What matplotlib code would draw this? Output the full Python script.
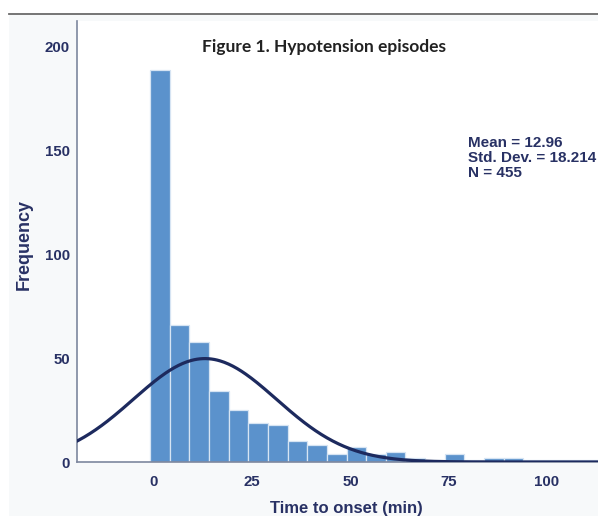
import numpy as np
import matplotlib
matplotlib.use("Agg")
import matplotlib.pyplot as plt
from matplotlib.patches import Rectangle
from matplotlib.lines import Line2D

# histogram counts (bin width 5 min)
bin_start = -1
bin_width = 5
counts = [189, 66, 58, 34, 25, 19, 18, 10, 8, 4, 7, 4, 5, 2, 1, 4, 1, 2, 2, 1, 1, 1, 1]

mean = 12.96
std_dev = 18.214
n_total = 455

x_ticks = [0, 25, 50, 75, 100]
y_ticks = [0, 50, 100, 150, 200]

navy = "#283164"
bar_color = "#5b92cc"
curve_color = "#1d2a5e"

plt.rcParams['font.family'] = ['Liberation Sans', 'DejaVu Sans']

fig = plt.figure(figsize=(5.98, 5.16), dpi=100)
fig.patch.set_facecolor("white")

# light panel + top rule
fig.patches.append(Rectangle((9 / 598, 0), 1, (516 - 13) / 516, transform=fig.transFigure,
                             facecolor="#f7f9fa", edgecolor="none", zorder=-5))
fig.lines.append(Line2D([9 / 598, 1], [(516 - 13.5) / 516] * 2, transform=fig.transFigure,
                        color="#6b6b6b", linewidth=1.3, zorder=-4))

ax = fig.add_axes([77 / 598, (516 - 462) / 516, 1 - 77 / 598, (462 - 21) / 516])
ax.set_facecolor("white")

edges = bin_start + bin_width * np.arange(len(counts))
ax.bar(edges, counts, width=bin_width, align="edge", color=bar_color,
       edgecolor="#d6e4f3", linewidth=0.9, zorder=2)

# fitted normal curve
xs = np.linspace(-25, 120, 400)
ys = n_total * bin_width / (std_dev * np.sqrt(2 * np.pi)) * np.exp(-0.5 * ((xs - mean) / std_dev) ** 2)
ax.plot(xs, ys, color=curve_color, linewidth=2.3, zorder=3, solid_capstyle="butt")

ax.set_xlim(-19.6, 113)
ax.set_ylim(0, 212.5)
ax.set_xticks(x_ticks)
ax.set_yticks(y_ticks)

for side in ["top", "right"]:
    ax.spines[side].set_visible(False)
for side in ["left", "bottom"]:
    ax.spines[side].set_color("#7d879e")
    ax.spines[side].set_linewidth(1.2)

ax.tick_params(axis="both", length=0, labelsize=10.8, labelcolor=navy)
ax.tick_params(axis="x", pad=9)
ax.tick_params(axis="y", pad=5)
for lab in ax.get_xticklabels() + ax.get_yticklabels():
    lab.set_fontweight("bold")

fig.text(346 / 598, 1 - 508 / 516, "Time to onset (min)", ha="center", va="center",
         fontsize=12, fontweight="bold", color=navy)
fig.text(24 / 598, 1 - 244 / 516, "Frequency", ha="center", va="center", rotation=90,
         fontsize=13, fontweight="bold", color=navy)

fig.text(324.5 / 598, 1 - 47.5 / 516, "Figure 1. Hypotension episodes", ha="center", va="center",
         fontsize=12.5, fontweight="bold", color="#222222", family=["Lato", "DejaVu Sans"])

fig.text(468 / 598, 1 - 136 / 516,
         "Mean = %.2f\nStd. Dev. = %.3f\nN = %d" % (mean, std_dev, n_total),
         ha="left", va="top", fontsize=11, fontweight="bold", color=navy, linespacing=1.1)

fig.savefig("out.png", dpi=100)
